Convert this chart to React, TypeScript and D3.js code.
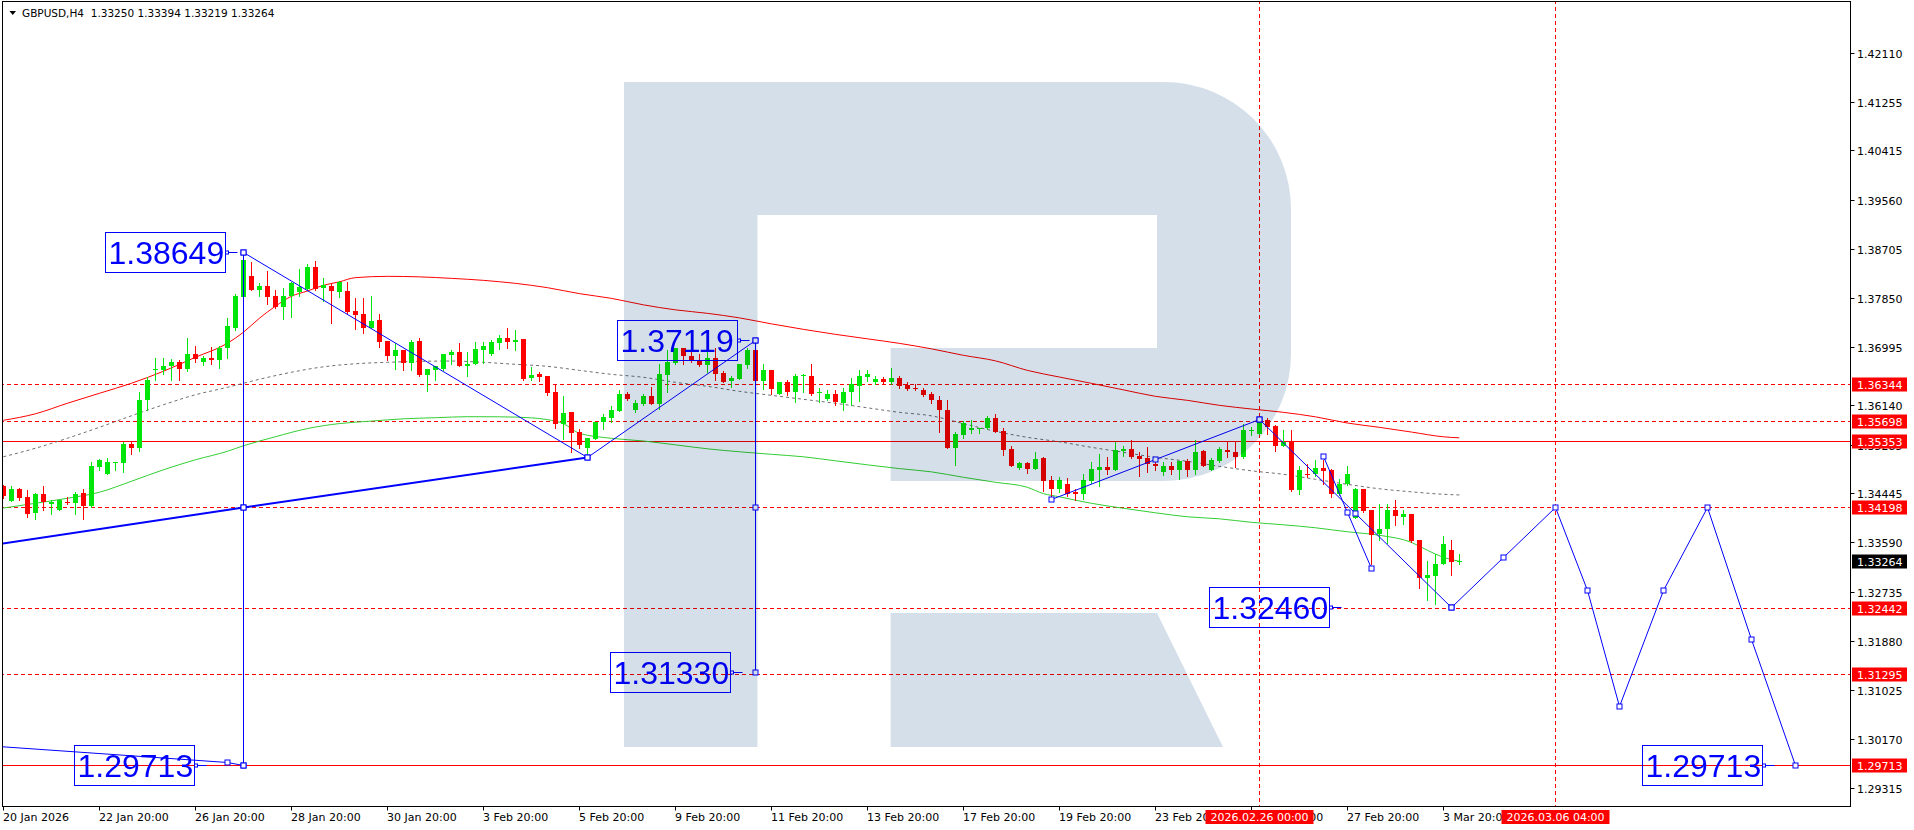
import React from "react";
import { scaleLinear, line as d3line, curveMonotoneX } from "d3";

// GBPUSD H4, one row per bar: open, high, low, close (bar 0 = 20 Jan 20:00)
const ohlc: [number, number, number, number][] = [
  [1.34566, 1.3459, 1.34369, 1.34392], [1.34311, 1.34566, 1.34311, 1.3452], [1.3452, 1.34543, 1.34334, 1.34369],
  [1.34381, 1.34497, 1.34033, 1.34079], [1.34102, 1.3445, 1.33998, 1.34427], [1.34427, 1.34578, 1.3416, 1.34288],
  [1.34253, 1.34323, 1.34079, 1.34299], [1.3416, 1.34323, 1.3416, 1.34323], [1.34299, 1.34381, 1.34265, 1.3427],
  [1.34276, 1.34462, 1.34091, 1.34439], [1.3445, 1.3452, 1.33998, 1.34218], [1.34218, 1.34984, 1.34207, 1.34926],
  [1.34903, 1.35042, 1.34845, 1.35019], [1.34787, 1.35065, 1.34787, 1.34984], [1.34973, 1.34996, 1.34857, 1.34996],
  [1.34973, 1.35344, 1.3481, 1.35298], [1.35298, 1.35344, 1.35124, 1.35228], [1.35228, 1.36214, 1.35182, 1.36075],
  [1.36075, 1.3647, 1.35901, 1.36423], [1.366, 1.36806, 1.36412, 1.36609], [1.36586, 1.36795, 1.36528, 1.36667],
  [1.36656, 1.36783, 1.36412, 1.36725], [1.36725, 1.3676, 1.36412, 1.36609], [1.36609, 1.37143, 1.36574, 1.36876],
  [1.36876, 1.37015, 1.36725, 1.36783], [1.36725, 1.3683, 1.36679, 1.36806], [1.36795, 1.36992, 1.36702, 1.3676],
  [1.3676, 1.37004, 1.36632, 1.3698], [1.3698, 1.37491, 1.36806, 1.37352], [1.37329, 1.37909, 1.37294, 1.37874],
  [1.37863, 1.38649, 1.37863, 1.38512], [1.38222, 1.38466, 1.37979, 1.37979], [1.37979, 1.38106, 1.37874, 1.38048],
  [1.38048, 1.38315, 1.37735, 1.37863], [1.37874, 1.3799, 1.37677, 1.37688], [1.37688, 1.38013, 1.3748, 1.37886],
  [1.37874, 1.38129, 1.37514, 1.38106], [1.37944, 1.3835, 1.37874, 1.38037], [1.38002, 1.38443, 1.37979, 1.38385],
  [1.38385, 1.38489, 1.3799, 1.38002], [1.38025, 1.38187, 1.37793, 1.38071], [1.3806, 1.38106, 1.3741, 1.37967],
  [1.37955, 1.38141, 1.37863, 1.38129], [1.37967, 1.38129, 1.37584, 1.37607], [1.37619, 1.37839, 1.37305, 1.37549],
  [1.37561, 1.37839, 1.37236, 1.37329], [1.37329, 1.37874, 1.37329, 1.37445], [1.37456, 1.37572, 1.36992, 1.37085],
  [1.37097, 1.37097, 1.3676, 1.36841], [1.36841, 1.37062, 1.36609, 1.36934], [1.36934, 1.36934, 1.36597, 1.36714],
  [1.36714, 1.37108, 1.36597, 1.37085], [1.37097, 1.37155, 1.36493, 1.36505], [1.36505, 1.36609, 1.36226, 1.36609],
  [1.36597, 1.36667, 1.36423, 1.36656], [1.36609, 1.36864, 1.36597, 1.36864], [1.36853, 1.36934, 1.36702, 1.36899],
  [1.36899, 1.37062, 1.36656, 1.36667], [1.36656, 1.36899, 1.36493, 1.36702], [1.36702, 1.37073, 1.36702, 1.36957],
  [1.36934, 1.37073, 1.36714, 1.37004], [1.36865, 1.37108, 1.36853, 1.37073], [1.37062, 1.37201, 1.36957, 1.37143],
  [1.37143, 1.37329, 1.36981, 1.37073], [1.37085, 1.37282, 1.36934, 1.3712], [1.37131, 1.37131, 1.36412, 1.36435],
  [1.36458, 1.36644, 1.36412, 1.36505], [1.36516, 1.36551, 1.364, 1.3647], [1.36482, 1.36482, 1.36157, 1.36191],
  [1.36203, 1.36342, 1.35576, 1.35658], [1.35658, 1.36145, 1.35391, 1.35843], [1.35855, 1.35855, 1.3517, 1.35495],
  [1.35507, 1.35565, 1.35228, 1.35286], [1.3524, 1.35402, 1.3509, 1.35402], [1.35391, 1.35692, 1.35391, 1.35692],
  [1.35692, 1.3582, 1.35565, 1.35774], [1.3575, 1.35959, 1.35692, 1.3589], [1.35878, 1.36238, 1.35878, 1.3618],
  [1.3618, 1.36215, 1.36075, 1.36087], [1.35901, 1.36075, 1.35866, 1.36017], [1.36006, 1.36168, 1.35983, 1.36145],
  [1.36133, 1.36296, 1.36006, 1.36006], [1.35994, 1.36702, 1.35913, 1.36516], [1.36505, 1.36934, 1.36215, 1.36725],
  [1.36714, 1.36981, 1.36702, 1.36981], [1.36981, 1.36981, 1.36702, 1.36841], [1.36841, 1.36981, 1.36737, 1.3676],
  [1.36772, 1.36876, 1.36656, 1.36679], [1.36679, 1.36981, 1.36551, 1.36806], [1.36806, 1.36981, 1.36412, 1.36516],
  [1.3654, 1.36575, 1.36377, 1.36389], [1.364, 1.36493, 1.36296, 1.36447], [1.36435, 1.36702, 1.36435, 1.36702],
  [1.36679, 1.36981, 1.36621, 1.36946], [1.36946, 1.37119, 1.364, 1.364], [1.364, 1.36702, 1.36261, 1.36586],
  [1.36586, 1.36586, 1.36168, 1.36261], [1.3618, 1.36389, 1.36168, 1.36389], [1.36389, 1.36424, 1.36157, 1.36203],
  [1.36215, 1.36528, 1.36041, 1.36493], [1.36493, 1.36517, 1.36203, 1.365], [1.36493, 1.36702, 1.36157, 1.36168],
  [1.36191, 1.36273, 1.36029, 1.36215], [1.36087, 1.36238, 1.36075, 1.36168], [1.36168, 1.36238, 1.35983, 1.36029],
  [1.36017, 1.36284, 1.35901, 1.36215], [1.36203, 1.36447, 1.35983, 1.36342], [1.36319, 1.36586, 1.36052, 1.36482],
  [1.3647, 1.36586, 1.364, 1.36516], [1.36389, 1.36482, 1.36354, 1.36435], [1.36435, 1.3647, 1.36366, 1.36377],
  [1.36389, 1.36621, 1.36342, 1.36447], [1.36447, 1.36493, 1.36284, 1.36319], [1.36331, 1.36377, 1.3625, 1.36261],
  [1.36273, 1.36342, 1.3625, 1.36261], [1.36238, 1.36284, 1.36134, 1.36157], [1.36168, 1.36203, 1.36017, 1.36064],
  [1.36075, 1.36145, 1.35507, 1.3589], [1.35901, 1.36064, 1.35228, 1.35228], [1.35228, 1.35507, 1.34938, 1.35472],
  [1.35461, 1.35705, 1.35415, 1.3567], [1.35554, 1.35716, 1.35496, 1.35589], [1.35577, 1.35589, 1.35496, 1.35589],
  [1.35577, 1.35798, 1.35565, 1.35751], [1.35751, 1.35821, 1.35507, 1.35507], [1.35531, 1.35589, 1.35113, 1.35194],
  [1.35217, 1.35264, 1.34915, 1.34927], [1.34892, 1.34985, 1.34869, 1.34974], [1.34974, 1.34997, 1.34799, 1.34869],
  [1.34869, 1.35171, 1.34869, 1.35043], [1.35055, 1.35078, 1.34486, 1.3466], [1.34672, 1.34741, 1.34405, 1.34521],
  [1.34521, 1.3473, 1.34463, 1.34683], [1.34602, 1.34707, 1.34405, 1.3444], [1.34463, 1.34521, 1.34335, 1.34428],
  [1.3444, 1.34788, 1.34347, 1.34672], [1.3466, 1.34997, 1.34625, 1.34869], [1.34846, 1.35136, 1.34579, 1.34904],
  [1.34904, 1.35078, 1.34788, 1.34846], [1.34846, 1.35333, 1.34846, 1.35194], [1.35182, 1.35275, 1.3509, 1.35217],
  [1.35217, 1.35368, 1.35055, 1.35078], [1.35101, 1.35171, 1.34741, 1.35043], [1.35055, 1.35252, 1.34823, 1.3495],
  [1.3495, 1.35008, 1.34846, 1.34927], [1.34811, 1.34985, 1.34765, 1.34915], [1.34927, 1.34997, 1.34788, 1.34857],
  [1.34857, 1.35008, 1.34695, 1.35008], [1.35008, 1.35043, 1.34741, 1.34846], [1.34846, 1.35368, 1.34788, 1.35171],
  [1.35182, 1.35205, 1.34915, 1.34927], [1.34845, 1.35066, 1.34845, 1.35031], [1.35008, 1.35252, 1.34996, 1.35217],
  [1.35205, 1.35356, 1.35077, 1.35159], [1.3517, 1.35356, 1.34903, 1.35077], [1.35077, 1.35646, 1.35066, 1.35553],
  [1.35542, 1.356, 1.3546, 1.35553], [1.35484, 1.35739, 1.35472, 1.35716], [1.35727, 1.35751, 1.35472, 1.356],
  [1.35611, 1.35635, 1.35182, 1.35275], [1.35275, 1.35553, 1.35263, 1.35344], [1.35356, 1.35553, 1.34486, 1.34497],
  [1.34509, 1.34927, 1.34428, 1.34845], [1.34776, 1.3495, 1.34729, 1.34764], [1.34776, 1.3502, 1.34753, 1.34892],
  [1.34892, 1.3502, 1.34613, 1.34834], [1.34845, 1.34869, 1.34381, 1.34439], [1.34439, 1.34695, 1.34416, 1.34602],
  [1.34602, 1.34915, 1.3459, 1.34776], [1.34018, 1.34544, 1.34007, 1.3452], [1.3452, 1.3452, 1.34126, 1.34137],
  [1.34149, 1.34149, 1.33221, 1.3372], [1.33743, 1.34265, 1.33627, 1.33824], [1.33824, 1.34265, 1.3358, 1.34149],
  [1.34149, 1.34323, 1.33894, 1.34056], [1.34033, 1.34161, 1.33917, 1.34091], [1.34091, 1.34091, 1.33603, 1.33615],
  [1.33627, 1.33627, 1.32791, 1.32965], [1.32977, 1.33267, 1.32594, 1.33023], [1.33, 1.33383, 1.32524, 1.33221],
  [1.33209, 1.33696, 1.33209, 1.33557], [1.33464, 1.33627, 1.33023, 1.33255], [1.3325, 1.33394, 1.33219, 1.33264],
];

// moving averages, sampled [bar, price]
const redMA: [number, number][] = [
  [0, 1.35716], [4, 1.35829], [8, 1.36012], [12, 1.36186], [16, 1.3636], [20, 1.36569], [24, 1.36813], [28, 1.37056],
  [30, 1.37248], [32, 1.37492], [34, 1.37701], [36, 1.37875], [38, 1.37967], [40, 1.38066], [42, 1.38127], [44, 1.382],
  [48, 1.38223], [52, 1.38214], [56, 1.38188], [60, 1.38153], [64, 1.38101], [68, 1.38026], [72, 1.37922], [76, 1.3784],
  [80, 1.37727], [84, 1.3764], [88, 1.37579], [92, 1.375], [96, 1.37396], [100, 1.373], [104, 1.37213], [108, 1.37135],
  [112, 1.37056], [116, 1.36961], [120, 1.36848], [124, 1.36752], [128, 1.36586], [132, 1.3647], [136, 1.3636],
  [140, 1.36247], [144, 1.36134], [148, 1.36064], [152, 1.35977], [156, 1.35913], [160, 1.35855], [164, 1.35777],
  [168, 1.35669], [172, 1.35594], [176, 1.35512], [180, 1.35429], [182, 1.35411],
];
const grayMA: [number, number][] = [
  [0, 1.35081], [4, 1.35229], [8, 1.35403], [12, 1.35594], [16, 1.35794], [20, 1.35986], [24, 1.3616], [28, 1.3629],
  [32, 1.3643], [36, 1.36552], [40, 1.36647], [44, 1.367], [48, 1.36726], [52, 1.36743], [56, 1.36748], [60, 1.36726],
  [64, 1.36691], [68, 1.36656], [72, 1.36586], [76, 1.36517], [80, 1.36465], [84, 1.36378], [88, 1.36308], [92, 1.36221],
  [96, 1.36151], [100, 1.36082], [104, 1.36012], [108, 1.35934], [112, 1.35855], [116, 1.35794], [120, 1.35659],
  [124, 1.35525], [128, 1.3542], [132, 1.35342], [136, 1.35246], [140, 1.35159], [144, 1.35072], [148, 1.35002],
  [152, 1.34915], [156, 1.34837], [160, 1.34776], [164, 1.34689], [168, 1.34602], [172, 1.34524], [176, 1.34471],
  [180, 1.34428], [182, 1.34416],
];
const greenMA: [number, number][] = [
  [0, 1.34188], [4, 1.34271], [8, 1.34358], [12, 1.34463], [16, 1.34654], [20, 1.34854], [24, 1.35028], [28, 1.35176],
  [30, 1.35272], [34, 1.35429], [38, 1.35572], [42, 1.35659], [46, 1.35702], [50, 1.35742], [54, 1.35761], [58, 1.35779],
  [62, 1.35777], [66, 1.35759], [68, 1.35728], [70, 1.35659], [72, 1.3549], [76, 1.35403], [80, 1.35356], [84, 1.35289],
  [88, 1.3522], [92, 1.35168], [96, 1.35124], [100, 1.35081], [104, 1.35011], [108, 1.34941], [112, 1.34875],
  [116, 1.34819], [120, 1.34724], [124, 1.34637], [128, 1.3455], [130, 1.3444], [132, 1.34384], [136, 1.34271],
  [140, 1.34184], [144, 1.34106], [148, 1.34036], [152, 1.34001], [156, 1.3394], [160, 1.33897], [164, 1.33845],
  [168, 1.33775], [172, 1.33714], [176, 1.33592], [178, 1.33453], [180, 1.33331], [182, 1.33261],
];

const priceTicks = [
  1.4211, 1.41255, 1.40415, 1.3956, 1.38705, 1.3785, 1.36995, 1.3614, 1.35285, 1.34445, 1.3359, 1.32735, 1.3188,
  1.31025, 1.3017, 1.29315,
];
const timeTicks: [number, string][] = [
  [0, "20 Jan 2026"], [12, "22 Jan 20:00"], [24, "26 Jan 20:00"], [36, "28 Jan 20:00"], [48, "30 Jan 20:00"],
  [60, "3 Feb 20:00"], [72, "5 Feb 20:00"], [84, "9 Feb 20:00"], [96, "11 Feb 20:00"], [108, "13 Feb 20:00"],
  [120, "17 Feb 20:00"], [132, "19 Feb 20:00"], [144, "23 Feb 20:00"], [156, "25 Feb 20:00"], [168, "27 Feb 20:00"],
  [180, "3 Mar 20:00"],
];

const dashedLevels = [1.36344, 1.35698, 1.34198, 1.32442, 1.31295];
const solidLevels = [1.35353, 1.29713];
const timeMarks: [number, string][] = [[157, "2026.02.26 00:00"], [194, "2026.03.06 04:00"]];
const lastPrice = 1.33264;

// drawn trend lines and forecast, [bar, price]
const baseLine: [number, number][] = [[-6, 1.33462], [30, 1.34198], [73, 1.35077]];
const waveLines: [number, number][][] = [
  [[30, 1.38649], [73, 1.35077], [94, 1.37119]],
  [[30, 1.38649], [30, 1.34198], [30, 1.29713]],
  [[-6, 1.30098], [28, 1.29762], [30, 1.29713]],
  [[94, 1.37119], [94, 1.34198], [94, 1.3133]],
  [[131, 1.34349], [144, 1.35035], [157, 1.35737]],
  [[157, 1.35737], [169, 1.341], [181, 1.3246]],
  [[165, 1.35089], [168, 1.34115], [171, 1.3314]],
];
const forecast: [number, number][] = [
  [181, 1.3246], [187.5, 1.33338], [194, 1.34198], [198, 1.32764], [202, 1.30744], [207.5, 1.32764],
  [213, 1.34198], [218.5, 1.31916], [224, 1.29713],
];
// price labels: value, bar at the right edge of the box
const priceNotes: [number, number][] = [
  [1.38649, 27.75], [1.37119, 91.75], [1.3133, 90.78], [1.3246, 165.7], [1.29713, 23.8], [1.29713, 219.8],
];

const W = 1914;
const H = 830;
const plot = { l: 2.5, t: 1.5, r: 1850.5, b: 806.5 };
const axisFont = "'DejaVu Sans', Verdana, sans-serif";
const bull = "#00e60a";
const bear = "#ff0000";
const blue = "#0000ff";

export default function App() {
  const x = scaleLinear().domain([0, 230]).range([3.3, 3.3 + 230 * 8]);
  const y = scaleLinear().domain([1.29, 1.43]).range([806, 2]);

  const maLine = d3line<[number, number]>()
    .x((d) => x(d[0]))
    .y((d) => y(d[1]))
    .curve(curveMonotoneX);
  const poly = d3line<[number, number]>()
    .x((d) => Math.round(x(d[0])) + 0.5)
    .y((d) => Math.round(y(d[1])) + 0.5);

  const marker = (p: [number, number], k: string, s = 5) => (
    <rect
      key={k}
      x={Math.round(x(p[0])) + 0.5 - s / 2}
      y={Math.round(y(p[1])) + 0.5 - s / 2}
      width={s}
      height={s}
      fill="#fff"
      stroke={blue}
      strokeWidth={1}
    />
  );

  const levelYs = [...dashedLevels, ...solidLevels].map((p) => y(p));
  // tick labels half covered by a level label slide below it
  const tickY = (p: number) => {
    const ty = y(p);
    const hit = levelYs.find((ly) => ty - ly > 8 && ty - ly < 14);
    return hit !== undefined ? hit + 21 : ty;
  };

  return (
    <svg
      width={W}
      height={H}
      style={{ position: "absolute", left: 0, top: 0, background: "#fff" }}
    >
      <defs>
        <clipPath id="plot">
          <rect x={plot.l + 0.5} y={plot.t + 0.5} width={plot.r - plot.l - 1} height={plot.b - plot.t - 1} />
        </clipPath>
      </defs>
      <rect x={0} y={0} width={W} height={H} fill="#fff" />

      <g clipPath="url(#plot)">
        {/* level lines */}
        {dashedLevels.map((p) => (
          <line key={"d" + p} x1={0} x2={plot.r} y1={Math.round(y(p)) + 0.5} y2={Math.round(y(p)) + 0.5}
            stroke={bear} strokeWidth={1} strokeDasharray="4,3" />
        ))}
        {solidLevels.map((p) => (
          <line key={"s" + p} x1={0} x2={plot.r} y1={Math.round(y(p)) + 0.5} y2={Math.round(y(p)) + 0.5}
            stroke={bear} strokeWidth={1} />
        ))}
        {timeMarks.map(([i]) => (
          <line key={"v" + i} x1={Math.round(x(i)) + 0.5} x2={Math.round(x(i)) + 0.5} y1={0} y2={plot.b}
            stroke={bear} strokeWidth={1} strokeDasharray="4,3" />
        ))}

        {/* moving averages */}
        <path d={maLine(greenMA) ?? ""} fill="none" stroke="#32cd32" strokeWidth={1} />
        <path d={maLine(grayMA) ?? ""} fill="none" stroke="#6e6e6e" strokeWidth={1} strokeDasharray="3,3" />
        <path d={maLine(redMA) ?? ""} fill="none" stroke={bear} strokeWidth={1} />

        {/* candles */}
        <g shapeRendering="crispEdges">
          {ohlc.map(([o, h, l, c], i) => {
            const cx = Math.round(x(i));
            const col = c >= o ? bull : bear;
            const top = Math.round(y(Math.max(o, c)));
            const bot = Math.round(y(Math.min(o, c)));
            return (
              <g key={i}>
                <line x1={cx + 0.5} x2={cx + 0.5} y1={Math.round(y(h))} y2={Math.round(y(l)) + 1} stroke={col} />
                <rect x={cx - 2} y={top} width={5} height={Math.max(1, bot - top)} fill={col} />
              </g>
            );
          })}
        </g>

        {/* waves and forecast */}
        <path d={poly(baseLine) ?? ""} fill="none" stroke={blue} strokeWidth={2} />
        {waveLines.map((pts, k) => (
          <path key={"w" + k} d={poly(pts) ?? ""} fill="none" stroke={blue} strokeWidth={1} />
        ))}
        <path d={poly(forecast) ?? ""} fill="none" stroke={blue} strokeWidth={1} />
        {baseLine.slice(1).map((p, k) => marker(p, "bm" + k))}
        {waveLines.flatMap((pts, k) => pts.map((p, j) => marker(p, "wm" + k + "_" + j)))}
        {forecast.map((p, k) => marker(p, "fm" + k))}

        {/* price labels */}
        {priceNotes.map(([p, i], k) => {
          const rx = Math.round(x(i)) + 0.5;
          const cy = Math.round(y(p)) + 0.5;
          return (
            <g key={"pn" + k}>
              <rect x={rx - 120} y={cy - 20} width={120} height={40} fill="none" stroke={blue} strokeWidth={1} />
              <text x={rx - 117} y={cy + 11.5} fontFamily="'Liberation Sans', Arial, sans-serif" fontSize={32}
                fill={blue}>{p.toFixed(5)}</text>
              <line x1={rx} x2={rx + 12} y1={cy} y2={cy} stroke={blue} strokeWidth={1} />
              <rect x={rx} y={cy - 1.5} width={3} height={3} fill="#fff" stroke={blue} strokeWidth={1} />
            </g>
          );
        })}

        {/* watermark */}
        <g style={{ mixBlendMode: "multiply" }} fill="#d5dfea">
          <path d="M624,82 H1164 A127,127 0 0 1 1291,209 V354 A127,127 0 0 1 1164,481 H890.6 V348 H1157 V215 H757.5 V747 H624 Z" />
          <path d="M890.6,613 H1157 L1223,747 H890.6 Z" />
        </g>
      </g>

      {/* frame */}
      <rect x={plot.l} y={plot.t} width={plot.r - plot.l} height={plot.b - plot.t} fill="none" stroke="#000"
        strokeWidth={1} shapeRendering="crispEdges" />

      {/* header */}
      <polygon points="9.5,11 16,11 12.75,15" fill="#000" />
      <text x={22} y={17} fontFamily={axisFont} fontSize={10.5} fill="#000" style={{ whiteSpace: "pre" }}>
        {"GBPUSD,H4  1.33250 1.33394 1.33219 1.33264"}
      </text>

      {/* price axis */}
      {priceTicks.map((p) => {
        const ty = Math.round(tickY(p)) + 0.5;
        return (
          <g key={"pt" + p}>
            <line x1={plot.r} x2={plot.r + 4} y1={ty} y2={ty} stroke="#000" />
            <text x={1857} y={ty + 4} fontFamily={axisFont} fontSize={11} fill="#000">{p.toFixed(5)}</text>
          </g>
        );
      })}
      {[...dashedLevels, ...solidLevels].map((p) => {
        const ty = Math.round(y(p));
        return (
          <g key={"pl" + p}>
            <rect x={1852} y={ty - 6.5} width={55} height={14} fill={bear} />
            <text x={1857} y={ty + 4.5} fontFamily={axisFont} fontSize={11} fill="#fff">{p.toFixed(5)}</text>
          </g>
        );
      })}
      <rect x={1852} y={Math.round(y(lastPrice)) - 6.5} width={55} height={14} fill="#000" />
      <text x={1857} y={Math.round(y(lastPrice)) + 4.5} fontFamily={axisFont} fontSize={11} fill="#fff">
        {lastPrice.toFixed(5)}
      </text>

      {/* time axis */}
      {timeTicks.map(([i, s]) => {
        const tx = Math.round(x(i)) + 0.5;
        return (
          <g key={"tt" + i}>
            <line x1={tx} x2={tx} y1={plot.b} y2={plot.b + 4} stroke="#000" />
            <text x={tx - 0.5} y={821} fontFamily={axisFont} fontSize={11} fill="#000">{s}</text>
          </g>
        );
      })}
      {timeMarks.map(([i, s]) => {
        const tx = Math.round(x(i)) + 0.5;
        return (
          <g key={"tm" + i}>
            <rect x={tx - 54} y={810} width={108} height={14} fill={bear} />
            <text x={tx} y={821} textAnchor="middle" fontFamily={axisFont} fontSize={11} fill="#fff">{s}</text>
          </g>
        );
      })}
    </svg>
  );
}
